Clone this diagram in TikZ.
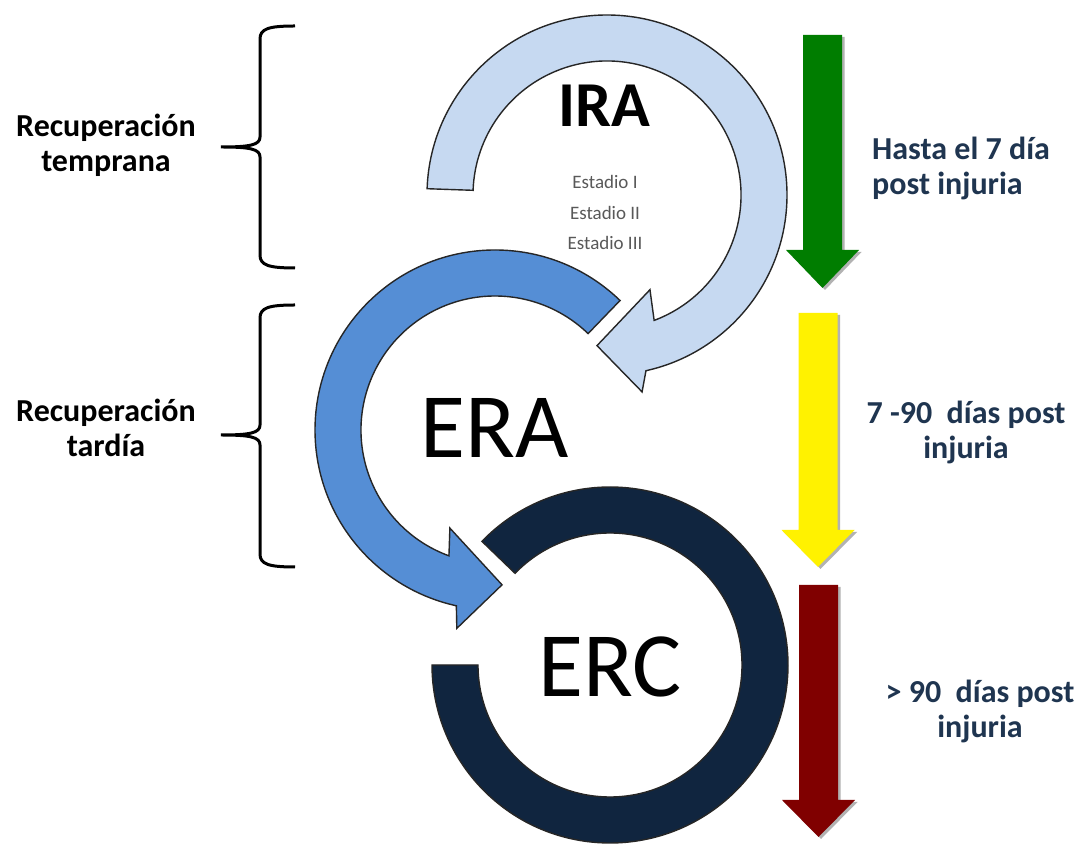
\documentclass[tikz,border=0pt]{standalone}
\usepackage{fontspec}
\setmainfont{Carlito}
\usepackage{tikz}
\usetikzlibrary{positioning,calc}
\definecolor{irablue}{HTML}{C6D9F1}
\definecolor{erablue}{HTML}{558ED5}
\definecolor{ercnavy}{HTML}{10253F}
\definecolor{txtnavy}{HTML}{1F3550}
\definecolor{stagegray}{HTML}{595959}
\definecolor{earlygreen}{RGB}{0,125,0}
\definecolor{latered}{RGB}{128,0,0}
\pgfkeys{tikz/ringarrow/.style={draw=black!85,line width=1.4pt,line join=miter}}
\pgfkeys{tikz/sidelabel/.style={font=\bfseries\fontsize{32}{35}\selectfont,align=center,inner sep=0pt}}
\pgfkeys{tikz/periodlabel/.style={sidelabel,text=txtnavy}}

\begin{document}
\begin{tikzpicture}[x=1pt,y=1pt]
  \useasboundingbox[fill=white] (0,0) rectangle (1081,845);

  % curved arrows
  \begin{scope}[shift={(607,650)}]
    \draw[ringarrow,fill=irablue] (178:180) arc[start angle=178,end angle=-77.5,radius=180]
      -- (-79.9:200) -- (-93.8:151) -- (-65.6:104) -- (-69.4:134)
      arc[start angle=-69.4,end angle=178,radius=134] -- cycle;
  \end{scope}
  \begin{scope}[shift={(495,415)}]
    \draw[ringarrow,fill=erablue] (46:180) arc[start angle=46,end angle=257.6,radius=180]
      -- (259.1:202) -- (272.6:155) -- (245.3:108) -- (249.9:134)
      arc[start angle=249.9,end angle=46,radius=134] -- cycle;
  \end{scope}
  \begin{scope}[shift={(610,180)}]
    \draw[ringarrow,fill=ercnavy] (136:178) arc[start angle=136,end angle=-180,radius=178]
      -- (-180:132) arc[start angle=-180,end angle=136,radius=132] -- cycle;
  \end{scope}

  \node (ira) at (604,739) {\bfseries\fontsize{64}{64}\selectfont IRA};
  \node[text=stagegray,font=\fontsize{19}{19}\selectfont] (st1) at (605,663) {Estadio I};
  \node[text=stagegray,font=\fontsize{19}{19}\selectfont] (st2) at (605,632) {Estadio II};
  \node[text=stagegray,font=\fontsize{19}{19}\selectfont] (st3) at (605,602) {Estadio III};
  \node (era) at (495,417) {\fontsize{92}{92}\selectfont ERA};
  \node (erc) at (610,178) {\fontsize{92}{92}\selectfont ERC};

  % braces
  \draw[line width=3pt] (295,819) .. controls (268,819) and (260,816) .. (260,806) -- (260,708)
    .. controls (260,700) and (250,698) .. (221,698) .. controls (250,698) and (260,696) .. (260,688)
    -- (260,590) .. controls (260,580) and (268,577) .. (295,577);
  \draw[line width=3pt] (295,540) .. controls (268,540) and (260,537) .. (260,527) -- (260,420)
    .. controls (260,412) and (250,410) .. (221,410) .. controls (250,410) and (260,408) .. (260,400)
    -- (260,291) .. controls (260,281) and (268,278) .. (295,278);
  \node[sidelabel] (early) at (106,700) {Recuperación\\temprana};
  \node[sidelabel] (late) at (106,417) {Recuperación\\tardía};

  % time arrows
  \foreach \col/\cx/\top/\base/\tip in {earlygreen/822.5/810/595/557,yellow/818/532/315/278,latered/818.5/260/45/8}{
    \fill[gray!60,xshift=2.5pt,yshift=-2pt] (\cx-19.5,\top) -- (\cx+19.5,\top) -- (\cx+19.5,\base)
      -- (\cx+36.5,\base) -- (\cx,\tip) -- (\cx-36.5,\base) -- (\cx-19.5,\base) -- cycle;
    \fill[\col] (\cx-19.5,\top) -- (\cx+19.5,\top) -- (\cx+19.5,\base)
      -- (\cx+36.5,\base) -- (\cx,\tip) -- (\cx-36.5,\base) -- (\cx-19.5,\base) -- cycle;
  }
  \node[periodlabel,align=left,anchor=west] (p1) at (872,677) {Hasta el 7 día\\post injuria};
  \node[periodlabel] (p2) at (966,413) {7 -90\ \ días post\\injuria};
  \node[periodlabel] (p3) at (980,134) {> 90\ \ días post\\injuria};
\end{tikzpicture}
\end{document}
